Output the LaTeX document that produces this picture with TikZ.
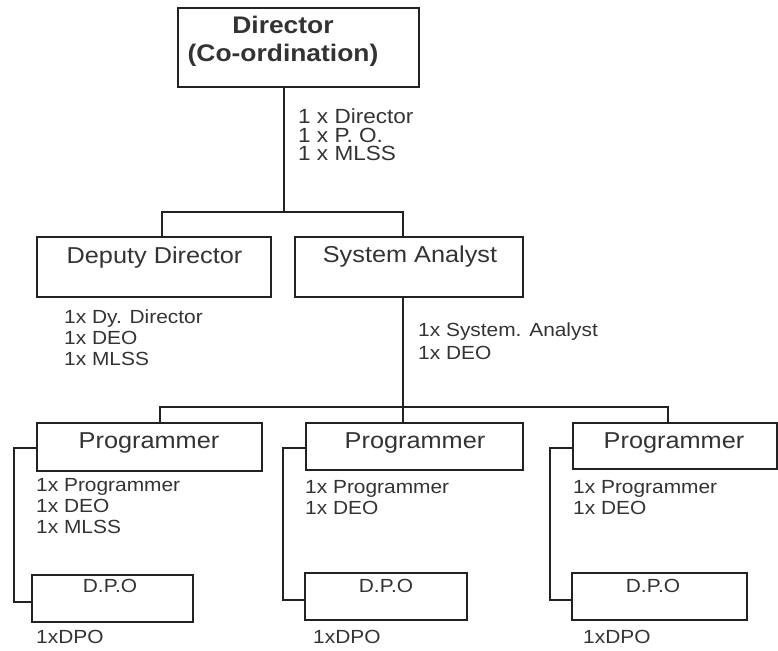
\documentclass[tikz,border=0pt]{standalone}
\usepackage{fontspec}
\setmainfont{Liberation Sans}[FakeStretch=1.1]
\definecolor{ink}{HTML}{222222}
\definecolor{txt}{HTML}{333333}
\begin{document}
\begin{tikzpicture}[x=1pt,y=-1pt,
  box/.style={draw=ink, line width=1.3pt, inner sep=0pt},
  link/.style={draw=ink, line width=1.3pt},
  title/.style={text=txt, inner sep=0pt, anchor=base, font=\fontsize{23}{26}\selectfont},
  staff/.style={text=txt, inner sep=0pt, anchor=north west, align=left},
  small/.style={font=\fontsize{19}{21}\selectfont}
]
\useasboundingbox (0,0) rectangle (778,650);

% ---- boxes ----
\node[box, minimum width=241pt, minimum height=79pt] (dir)   at (298.5,47.5) {};
\node[box, minimum width=234pt, minimum height=60pt] (dep)   at (154,267) {};
\node[box, minimum width=228pt, minimum height=60pt] (sa)    at (409,267) {};
\node[box, minimum width=225pt, minimum height=48pt] (prog1) at (149.5,447) {};
\node[box, minimum width=217pt, minimum height=47pt] (prog2) at (414.5,446.5) {};
\node[box, minimum width=204pt, minimum height=46pt] (prog3) at (675,446) {};
\node[box, minimum width=161pt, minimum height=47pt] (dpo1)  at (112.5,598.5) {};
\node[box, minimum width=162pt, minimum height=47pt] (dpo2)  at (386,596.5) {};
\node[box, minimum width=175pt, minimum height=47pt] (dpo3)  at (659.5,596.5) {};

% ---- box titles ----
\node[text=txt, inner sep=0pt, anchor=north, align=center,
      font=\bfseries\fontsize{24}{28}\selectfont] (dirT) at (283,16.4)
      {Director\\(Co-ordination)};
\node[title] (depT)   at (154.5,263) {Deputy Director};
\node[title] (saT)    at (410,262)   {System Analyst};
\node[title] (prog1T) at (149,448)   {Programmer};
\node[title] (prog2T) at (415,448)   {Programmer};
\node[title] (prog3T) at (674,448)   {Programmer};
\node[title, small] (dpo1T) at (110,592) {D.P.O};
\node[title, small] (dpo2T) at (386,592) {D.P.O};
\node[title, small] (dpo3T) at (653,592) {D.P.O};

% ---- staffing notes ----
\node[staff, font=\fontsize{20.5}{18.5}\selectfont] (dirS) at (298,108.6)
      {1 x Director\\1 x P. O.\\1 x MLSS};
\node[staff, small] (depS) at (64,310) {1x Dy. Director\\1x DEO\\1x MLSS};
\node[staff, font=\fontsize{19}{23}\selectfont] (saS) at (418,323)
      {1x System. Analyst\\1x DEO};
\node[staff, small] (prog1S) at (36,478) {1x Programmer\\1x DEO\\1x MLSS};
\node[staff, small] (prog2S) at (305,480) {1x Programmer\\1x DEO};
\node[staff, small] (prog3S) at (573,480) {1x Programmer\\1x DEO};
\node[staff, small] (dpo1S) at (36,630)  {1xDPO};
\node[staff, small] (dpo2S) at (313,630) {1xDPO};
\node[staff, small] (dpo3S) at (583,630) {1xDPO};

% ---- connectors ----
\coordinate (hub) at (284,212);
\coordinate (tl)  at (162,212);
\coordinate (tr)  at (403,212);
\coordinate (bl)  at (160,407);
\coordinate (br)  at (668,407);
\draw[link] (dir.south -| hub) -- (hub);
\draw[link] (dep.north -| tl) -- (tl) -- (tr) -- (sa.north -| tr);
\draw[link] (sa.south -| tr) -- (prog2.north -| tr);
\draw[link] (prog1.north -| bl) -- (bl) -- (br) -- (prog3.north -| br);

\coordinate (k1a) at (14,448);  \coordinate (k1b) at (14,602);
\coordinate (k2a) at (283,448); \coordinate (k2b) at (283,600);
\coordinate (k3a) at (550,448); \coordinate (k3b) at (550,600);
\draw[link] (prog1.west |- k1a) -- (k1a) -- (k1b) -- (dpo1.west |- k1b);
\draw[link] (prog2.west |- k2a) -- (k2a) -- (k2b) -- (dpo2.west |- k2b);
\draw[link] (prog3.west |- k3a) -- (k3a) -- (k3b) -- (dpo3.west |- k3b);
\end{tikzpicture}
\end{document}
